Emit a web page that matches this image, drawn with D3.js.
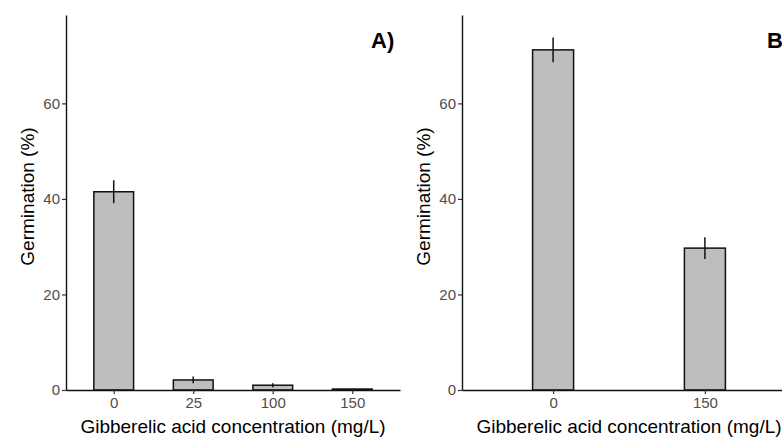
<!DOCTYPE html>
<html>
<head>
<meta charset="utf-8">
<script src="https://cdn.jsdelivr.net/npm/d3@7"></script>
<style>
  body { margin: 0; background: #fff; }
  svg { display: block; font-family: Arial, "Liberation Sans", sans-serif; }
</style>
</head>
<body>
<div class="chart"></div>
<script>
// panel A
const doseA = ["0", "25", "100", "150"]
const meanA = [41.5, 2.1, 1.0, 0.2]
const seA = [2.4, 0.7, 0.4, 0.05]
// panel B
const doseB = ["0", "150"]
const meanB = [71.2, 29.7]
const seB = [2.6, 2.3]

const yTicks = [0, 20, 40, 60]
const xTitle = "Gibberelic acid concentration (mg/L)"
const yTitle = "Germination (%)"

const W = 782, H = 437

const svg = d3.select(".chart").append("svg")
    .attr("width", W)
    .attr("height", H)

// one panel, dx is the left offset of the subplot
function drawPanel(dx, cats, means, ses, tag) {
    const left = dx + 66, right = dx + 400, top = 15, bottom = 390

    const g = svg.append("g")

    const n = cats.length
    // ggplot style discrete axis: 0.6 units padding each side
    const x = d3.scaleLinear()
        .domain([0.4, n + 0.6])
        .range([left, right])
    const y = d3.scaleLinear()
        .domain([0, 78.5])
        .range([bottom, top])

    const step = x(2) - x(1)
    const barW = n > 2 ? step * 0.5 : 41

    const data = cats.map((c, i) => ({ c: c, i: i + 1, m: means[i], s: ses[i] }))

    g.selectAll("rect.bar")
        .data(data)
        .enter()
        .append("rect")
        .attr("class", "bar")
        .attr("x", d => x(d.i) - barW / 2)
        .attr("width", barW)
        .attr("y", d => y(d.m))
        .attr("height", d => y(0) - y(d.m))
        .attr("fill", "#bebebe")
        .attr("stroke", "#111")
        .attr("stroke-width", 1.5)

    g.selectAll("line.err")
        .data(data)
        .enter()
        .append("line")
        .attr("class", "err")
        .attr("x1", d => x(d.i))
        .attr("x2", d => x(d.i))
        .attr("y1", d => y(d.m + d.s))
        .attr("y2", d => y(Math.max(0, d.m - d.s)))
        .attr("stroke", "#111")
        .attr("stroke-width", 1.5)

    // y axis
    const yAxis = g.append("g")
        .attr("transform", "translate(" + left + ",0)")
        .call(d3.axisLeft(y).tickValues(yTicks).tickSize(4).tickPadding(2).tickSizeOuter(0))
    yAxis.select(".domain").attr("stroke", "#111").attr("stroke-width", 1.4)
    yAxis.selectAll(".tick line").attr("stroke", "#333").attr("stroke-width", 1.2)
    yAxis.selectAll(".tick text")
        .attr("fill", "#4d4d4d")
        .style("font-size", "15px")
        .style("font-family", "Arial, 'Liberation Sans', sans-serif")

    // x axis
    const xAxis = g.append("g")
        .attr("transform", "translate(0," + bottom + ")")
        .call(d3.axisBottom(x).tickValues(d3.range(1, n + 1))
            .tickFormat(i => cats[i - 1]).tickSize(4).tickPadding(3).tickSizeOuter(0))
    xAxis.select(".domain").attr("stroke", "#111").attr("stroke-width", 1.4)
    xAxis.selectAll(".tick line").attr("stroke", "#333").attr("stroke-width", 1.2)
    xAxis.selectAll(".tick text")
        .attr("fill", "#4d4d4d")
        .style("font-size", "15px")
        .style("font-family", "Arial, 'Liberation Sans', sans-serif")

    // titles
    g.append("text")
        .attr("x", (left + right) / 2)
        .attr("y", 433)
        .attr("text-anchor", "middle")
        .style("font-size", "19px")
        .attr("fill", "#000")
        .text(xTitle)

    g.append("text")
        .attr("transform", "translate(" + (dx + 34) + "," + ((top + bottom) / 2 - 6) + ") rotate(-90)")
        .attr("text-anchor", "middle")
        .style("font-size", "19px")
        .attr("fill", "#000")
        .text(yTitle)

    g.append("text")
        .attr("x", dx + 371)
        .attr("y", 47.5)
        .style("font-size", "22px")
        .style("font-weight", "bold")
        .attr("fill", "#000")
        .text(tag)
}

drawPanel(0, doseA, meanA, seA, "A)")
drawPanel(396, doseB, meanB, seB, "B)")
</script>
</body>
</html>
